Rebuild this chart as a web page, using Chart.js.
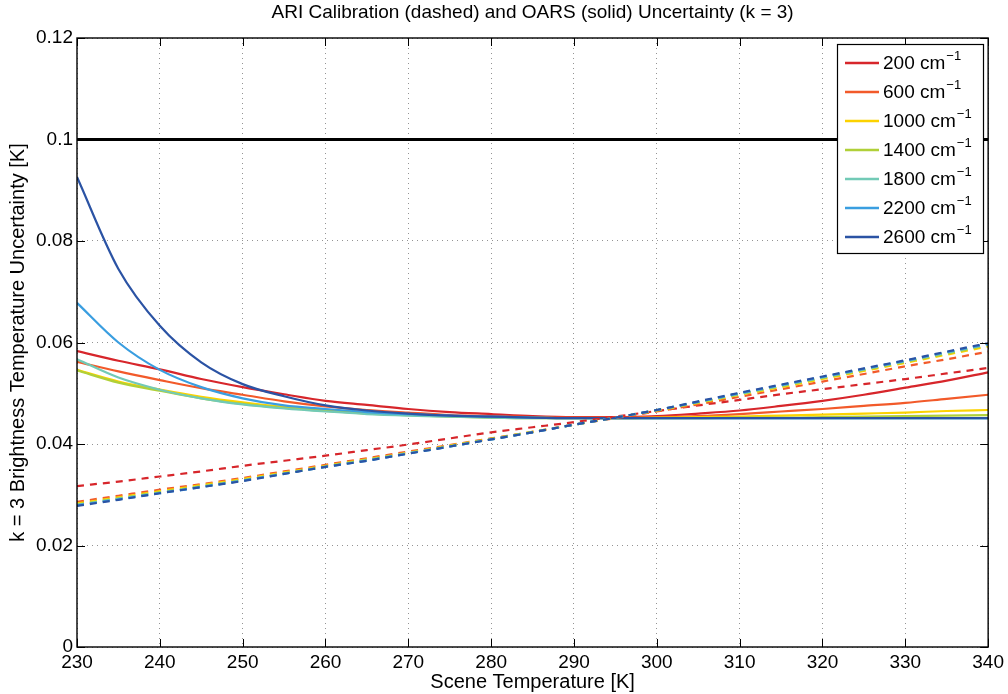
<!DOCTYPE html>
<html>
<head>
<meta charset="utf-8">
<script src="https://cdn.jsdelivr.net/npm/chart.js@4.4.1/dist/chart.umd.min.js"></script>
<style>
html,body{margin:0;padding:0;background:#fff;}
#wrap{width:1008px;height:694px;position:relative;}
</style>
</head>
<body>
<div id="wrap"><canvas id="c" width="1008" height="694"></canvas></div>
<script>
// ---- data ----
const temps = [230,235,240,245,250,255,260,265,270,275,280,285,290,295,300,305,310,315,320,325,330,335,340];
const wavenumbers = ['200','600','1000','1400','1800','2200','2600'];
const colors = ['#d7262b','#f25a2a','#fcd200','#b0d038','#72cab6','#3a9ee0','#2b53a4'];

// OARS (solid)
const oars200  = [.0583,.0564,.0547,.0528,.0512,.0498,.0485,.0477,.0469,.0463,.0459,.0455,.0453,.0453,.0455,.0460,.0466,.0475,.0485,.0497,.0511,.0525,.0541];
const oars600  = [.0562,.0543,.0526,.0510,.0497,.0484,.0474,.0467,.0462,.0457,.0455,.0453,.0452,.0452,.0453,.0455,.0459,.0464,.0469,.0475,.0481,.0489,.0497];
const oars1000 = [.0546,.0523,.0507,.0493,.0482,.0473,.0467,.0462,.0458,.0455,.0453,.0452,.0451,.0451,.0452,.0453,.0454,.0456,.0458,.0460,.0462,.0465,.0467];
const oars1400 = [.0545,.0521,.0505,.0490,.0479,.0471,.0465,.0460,.0457,.0454,.0452,.0451,.0451,.0451,.0451,.0451,.0452,.0452,.0453,.0454,.0455,.0456,.0457];
const oars1800 = [.0567,.0531,.0507,.0490,.0478,.0470,.0464,.0459,.0456,.0454,.0452,.0451,.0451,.0451,.0451,.0451,.0451,.0451,.0451,.0451,.0451,.0451,.0451];
const oars2200 = [.0678,.0600,.0546,.0512,.0490,.0476,.0469,.0463,.0459,.0456,.0454,.0452,.0451,.0451,.0451,.0451,.0451,.0451,.0451,.0451,.0451,.0451,.0451];
const oars2600 = [.0926,.0745,.0633,.0561,.0518,.0494,.0476,.0466,.0460,.0456,.0454,.0452,.0451,.0451,.0451,.0451,.0451,.0451,.0451,.0451,.0451,.0451,.0451];

// ARI calibration (dashed)
const ari200  = [.0317,.0326,.0336,.0346,.0357,.0367,.0377,.0388,.0399,.0411,.0423,.0433,.0443,.0454,.0465,.0476,.0487,.0498,.0508,.0518,.0528,.0539,.0550];
const ari600  = [.0286,.0298,.0310,.0321,.0333,.0346,.0359,.0372,.0385,.0398,.0411,.0424,.0438,.0451,.0464,.0478,.0493,.0508,.0523,.0538,.0553,.0567,.0582];
const ari1000 = [.0283,.0295,.0307,.0319,.0331,.0344,.0357,.0370,.0383,.0397,.0410,.0424,.0438,.0452,.0466,.0481,.0497,.0512,.0528,.0544,.0560,.0576,.0592];
const ari1400 = [.0281,.0293,.0305,.0317,.0329,.0342,.0356,.0369,.0382,.0396,.0410,.0424,.0438,.0452,.0466,.0482,.0498,.0514,.0530,.0546,.0562,.0578,.0595];
const ari1800 = [.0280,.0292,.0304,.0316,.0328,.0342,.0355,.0368,.0382,.0395,.0409,.0423,.0438,.0452,.0467,.0483,.0499,.0515,.0531,.0547,.0563,.0580,.0596];
const ari2200 = [.0279,.0291,.0303,.0315,.0328,.0341,.0355,.0367,.0381,.0395,.0409,.0423,.0438,.0452,.0467,.0483,.0500,.0516,.0532,.0548,.0564,.0581,.0597];
const ari2600 = [.0278,.0290,.0303,.0315,.0327,.0341,.0355,.0367,.0381,.0395,.0409,.0423,.0438,.0452,.0467,.0484,.0501,.0517,.0533,.0549,.0565,.0582,.0599];

const requirement = [0.1, 0.1];
const requirementT = [230, 340];

const xTicks = [230,240,250,260,270,280,290,300,310,320,330,340];
const yTicks = [0,0.02,0.04,0.06,0.08,0.1,0.12];

const titleText = 'ARI Calibration (dashed) and OARS (solid) Uncertainty (k = 3)';
const xTitle = 'Scene Temperature [K]';
const yTitle = 'k = 3 Brightness Temperature Uncertainty [K]';

// ---- build datasets ----
const FONT = '"Liberation Sans", Arial, Helvetica, sans-serif';
const FS = 19;
const oarsSeries = [oars200,oars600,oars1000,oars1400,oars1800,oars2200,oars2600];
const ariSeries = [ari200,ari600,ari1000,ari1400,ari1800,ari2200,ari2600];
const toXY = (xs, ys) => xs.map((x,i) => ({x:x, y:ys[i]}));

const datasets = [];
let k = 0;
datasets.push({label:'requirement', data: toXY(requirementT, requirement), borderColor:'#000', borderWidth:3.2, pointRadius:0, order:100-(k++)});
oarsSeries.forEach((s,i) => datasets.push({label: wavenumbers[i]+' cm-1', data: toXY(temps,s), borderColor: colors[i], borderWidth:2.2, pointRadius:0, cubicInterpolationMode:'monotone', order:100-(k++)}));
ariSeries.forEach((s,i) => datasets.push({label: wavenumbers[i]+' cm-1 ARI', data: toXY(temps,s), borderColor: colors[i], borderWidth:2.2, borderDash:[7,6], pointRadius:0, cubicInterpolationMode:'monotone', order:100-(k++)}));

const framePlugin = {
  id: 'frame',
  afterDraw(chart) {
    const {ctx, chartArea: a, scales} = chart;
    ctx.save();
    // title centred on the plot area
    ctx.fillStyle = '#000';
    ctx.font = FS + 'px ' + FONT;
    ctx.textAlign = 'center';
    ctx.textBaseline = 'middle';
    ctx.fillText(titleText, (a.left + a.right) / 2, 13);

    ctx.strokeStyle = '#000';
    ctx.lineWidth = 1;
    ctx.setLineDash([]);
    // inward ticks
    const tl = 8;
    ctx.beginPath();
    yTicks.forEach(v => {
      const y = Math.round(scales.y.getPixelForValue(v)) + 0.5;
      ctx.moveTo(a.left, y); ctx.lineTo(a.left + tl, y);
      ctx.moveTo(a.right, y); ctx.lineTo(a.right - tl, y);
    });
    xTicks.forEach(v => {
      const x = Math.round(scales.x.getPixelForValue(v)) + 0.5;
      ctx.moveTo(x, a.bottom); ctx.lineTo(x, a.bottom - tl);
      ctx.moveTo(x, a.top); ctx.lineTo(x, a.top + tl);
    });
    ctx.stroke();
    ctx.lineWidth = 1.4;
    ctx.strokeRect(a.left, a.top, a.right - a.left, a.bottom - a.top);

    // legend
    const bx = 837, by = 44, bw = 146, bh = 209;
    ctx.fillStyle = '#fff';
    ctx.fillRect(bx, by, bw, bh);
    ctx.lineWidth = 1.2;
    ctx.strokeStyle = '#000';
    ctx.strokeRect(bx + 0.5, by + 0.5, bw, bh);
    wavenumbers.forEach((w,i) => {
      const y = 63 + i * 29;
      ctx.strokeStyle = colors[i];
      ctx.lineWidth = 2.4;
      ctx.beginPath(); ctx.moveTo(845, y); ctx.lineTo(879, y); ctx.stroke();
      ctx.fillStyle = '#000';
      ctx.textBaseline = 'middle';
      ctx.textAlign = 'left';
      ctx.font = FS + 'px ' + FONT;
      const main = w + ' cm';
      ctx.fillText(main, 883, y + 1);
      const mw = ctx.measureText(main).width;
      ctx.font = '13px ' + FONT;
      ctx.fillText('\u22121', 883 + mw + 1, y - 7);
    });
    ctx.restore();
  }
};

new Chart(document.getElementById('c'), {
  type: 'line',
  data: { datasets },
  plugins: [framePlugin],
  options: {
    responsive: false,
    animation: false,
    devicePixelRatio: 1,
    layout: { padding: { left: 0, right: 19, top: 38, bottom: 0 } },
    plugins: {
      legend: { display: false },
      tooltip: { enabled: false },
      title: { display: false }
    },
    scales: {
      x: {
        type: 'linear', min: 230, max: 340,
        afterBuildTicks: s => { s.ticks = xTicks.map(v => ({value: v})); },
        afterFit: s => { s.height = 47; },
        ticks: { color: '#000', font: { family: FONT, size: FS }, padding: 4, maxRotation: 0, autoSkip: false },
        grid: { color: 'rgba(0,0,0,0.42)', lineWidth: 1, drawTicks: false },
        border: { display: false, dash: [1, 4] },
        title: { display: true, text: xTitle, color: '#000', font: { family: FONT, size: 20 }, padding: { top: 0, bottom: 0 } }
      },
      y: {
        type: 'linear', min: 0, max: 0.12,
        afterBuildTicks: s => { s.ticks = yTicks.map(v => ({value: v})); },
        afterFit: s => { s.width = 77; },
        ticks: { color: '#000', font: { family: FONT, size: FS }, padding: 4,
          callback: v => String(Number(v.toFixed(2))) },
        grid: { color: 'rgba(0,0,0,0.42)', lineWidth: 1, drawTicks: false },
        border: { display: false, dash: [1, 4] },
        title: { display: true, text: yTitle, color: '#000', font: { family: FONT, size: 20 }, padding: { top: 6, bottom: 0 } }
      }
    }
  }
});
</script>
</body>
</html>
